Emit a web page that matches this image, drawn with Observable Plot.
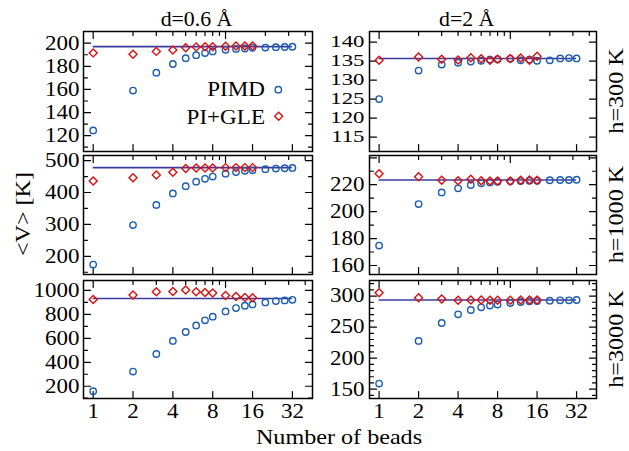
<!DOCTYPE html>
<html><head><meta charset="utf-8">
<script src="https://cdn.jsdelivr.net/npm/d3@7"></script>
<script src="https://cdn.jsdelivr.net/npm/@observablehq/plot@0.6"></script>
<style>
body{margin:0;background:#fff;}
#chart{position:relative;width:629px;height:451px;overflow:hidden;background:#fff;}
#chart .panel{position:absolute;}
#chart svg.overlay{position:absolute;left:0;top:0;pointer-events:none;}
</style></head><body><div id="chart"></div>
<script>
// ---- data ----
const beads = [1,2,3,4,5,6,7,8,10,12,14,16,20,24,28,32];
const gleBeads = [1,2,3,4,5,6,7,8,10,12,14,16];
const columnTitles = ["d=0.6 Å", "d=2 Å"];
const rowTitles = ["h=300 K", "h=1000 K", "h=3000 K"];
const seriesNames = ["PIMD", "PI+GLE"];

const pimd_06_300 = [124.5,159,174.5,182,187,189.6,191.4,192.9,194.3,195,195.4,196,196.2,196.5,196.7,196.9];
const gle_06_300  = [191.6,190.5,192.9,194,196,196.8,197,197,197.3,197.5,197.5,197.5];
const pimd_2_300  = [125.0,132.5,134.1,134.6,134.9,135.1,135.4,135.5,135.6,135.2,135.4,135.1,135.2,135.7,135.8,135.7];
const gle_2_300   = [135.2,136.1,135.5,135.3,135.9,135.6,135.2,135.5,135.7,135.8,135.2,136.3];
const pimd_06_1000 = [174,298,361,397,420,434,443,450,459,464,468,469.5,473,475,476,477];
const gle_06_1000  = [436,446,455,463.5,475,477,477,477,478,478,478,478];
const pimd_2_1000  = [174.8,205.6,214.3,217.3,219.8,221,221.7,222.2,222.5,222.7,223,223,223.3,223.5,223.5,223.7];
const gle_2_1000   = [228.2,226,223.3,223,224,223,222.7,222.7,222.7,223.3,223.5,223.3];
const pimd_06_3000 = [158,322,469,578,653,708,750,781,825,853,872,883,900,911,917,922];
const gle_06_3000  = [925,961,989,992,1003,989,983,978,958,950,942,939];
const pimd_2_3000  = [159,227.7,256.6,270.6,277.5,281.8,284.6,286.2,288.8,290.4,291.5,292,292.5,293,293,293.6];
const gle_2_3000   = [305.4,297.4,295.3,293.2,293.6,293.6,293.2,293.2,293.2,293.6,293.6,293.6];
const refValues = [[197, 135.7], [478, 223.5], [933, 293.6]];

const yDomains = [[[106.3,210.1],[111.2,142.8]], [[143,516],[153.3,241.7]], [[97.5,1083],[135,325]]];
const yLabelTicks = [[[120,140,160,180,200],[115,120,125,130,135,140]],
                     [[200,300,400,500],[160,180,200,220]],
                     [[200,400,600,800,1000],[150,200,250,300]]];
const yMajorTicks = [[[120,140,160,180,200],[115,120,125,130,135,140]],
                     [[200,300,400,500],[160,180,200,220,240]],
                     [[200,400,600,800,1000],[150,200,250,300]]];
const yMinorTicks = [[[110,130,150,170,190],[]],
                     [[150,250,350,450],[170,190,210,230]],
                     [[100,300,500,700,900],[140,160,170,180,190,210,220,230,240,260,270,280,290,310,320]]];
const xDomain = [0.845, 45.4];
const xTopMajor = [1, 10];
const xTopMinor = [2,3,4,5,6,7,8,9,20,30,40];
const xBottomTicks = [1,2,4,8,16,32];

const pimdData = [[pimd_06_300, pimd_2_300],[pimd_06_1000, pimd_2_1000],[pimd_06_3000, pimd_2_3000]];
const gleData  = [[gle_06_300, gle_2_300],[gle_06_1000, gle_2_1000],[gle_06_3000, gle_2_3000]];

// ---- styles / layout ----
const FONT = "'Liberation Serif','Times New Roman',serif";
const C_PIMD = "#1c5db0", C_GLE = "#dd1010", C_REF = "#3a3a9e";
const colLeft = [83, 369], colWidth = [229, 227];
const rowTop = [31, 155, 280], rowHeight = [120, 119, 118];
const TX = 1.15; // horizontal text stretch of the original

const chart = document.getElementById("chart");
const tickShape = {draw(ctx, l) { ctx.moveTo(0, 0); ctx.lineTo(0, -l); }};

function panel(row, col) {
  const mL = 60, mR = 8, mT = 8, mB = row === 2 ? 40 : 8;
  const dom = yDomains[row][col];
  const inDom = (v) => v >= dom[0] && v <= dom[1];
  const major = yMajorTicks[row][col].filter(inDom);
  const minor = yMinorTicks[row][col].filter(inDom);
  const dense = row === 0 && col === 1; // tightly packed labels
  const labelSize = dense ? 16.5 : 20;
  const labelStretch = dense ? 1.38 : TX;
  const tk = (data, opts) => Plot.vector(data, {anchor: "start", shape: tickShape, stroke: "black", strokeWidth: 1.2, ...opts});
  const p = Plot.plot({
    width: mL + colWidth[col] + mR, height: mT + rowHeight[row] + mB,
    marginLeft: mL, marginRight: mR, marginTop: mT, marginBottom: mB,
    x: {type: "log", domain: xDomain, axis: null},
    y: {domain: dom, axis: null},
    style: {fontFamily: FONT, fontSize: "20px", color: "black", background: "transparent", overflow: "visible"},
    marks: [
      Plot.axisY({ticks: yLabelTicks[row][col], tickSize: 0, tickPadding: col === 0 ? 4 : 5, tickFormat: (d) => String(d), label: null, fontSize: labelSize}),
      row === 2 ? Plot.text(xBottomTicks, {x: (d) => d, text: (d) => String(d), frameAnchor: "bottom", lineAnchor: "top", dy: 5, fontSize: 20}) : null,
      tk(major, {y: (d) => d, frameAnchor: "left", rotate: 90, length: 7}),
      tk(minor, {y: (d) => d, frameAnchor: "left", rotate: 90, length: 4}),
      tk(major, {y: (d) => d, frameAnchor: "right", rotate: -90, length: 7}),
      tk(minor, {y: (d) => d, frameAnchor: "right", rotate: -90, length: 4}),
      tk(xTopMajor, {x: (d) => d, frameAnchor: "top", rotate: 180, length: 7}),
      tk(xTopMinor, {x: (d) => d, frameAnchor: "top", rotate: 180, length: 4}),
      tk(xBottomTicks, {x: (d) => d, frameAnchor: "bottom", rotate: 0, length: 7}),
      Plot.ruleY([refValues[row][col]], {x1: beads[0], x2: beads[beads.length - 1], stroke: C_REF, strokeWidth: 1.6}),
      Plot.dot(beads, {x: (d) => d, y: pimdData[row][col], r: 3.2, stroke: C_PIMD, strokeWidth: 1.4, fill: "none"}),
      Plot.dot(gleBeads, {x: (d) => d, y: gleData[row][col], symbol: "diamond2", r: 3.6, stroke: C_GLE, strokeWidth: 1.4, fill: "none"}),
      Plot.frame({stroke: "black", strokeWidth: 1.5})
    ]
  });
  p.querySelectorAll("text").forEach((t) => {
    const s = t.closest("[aria-label='y-axis tick label']") ? labelStretch : TX;
    t.setAttribute("transform", (t.getAttribute("transform") || "") + ` scale(${s},1)`);
  });
  p.classList.add("panel");
  p.style.left = (colLeft[col] - mL) + "px";
  p.style.top = (rowTop[row] - mT) + "px";
  chart.appendChild(p);
}
for (let r = 0; r < 3; r++) for (let c = 0; c < 2; c++) panel(r, c);

// ---- overlay texts and legend ----
const ov = d3.select(chart).append("svg").attr("class", "overlay").attr("width", 629).attr("height", 451)
  .style("font-family", FONT).attr("fill", "black");
function txt(s, x, y, size, rot = 0, anchor = "middle", sx = TX) {
  ov.append("text").attr("transform", `translate(${x},${y}) rotate(${rot}) scale(${sx},1)`)
    .attr("text-anchor", anchor).attr("font-size", size).text(s);
}
txt(columnTitles[0], 196.5, 26, 21, 0, "middle", 1.04);
txt(columnTitles[1], 466.7, 26, 21, 0, "middle", 1.04);
rowTitles.forEach((s, i) => txt(s, 623, rowTop[i] + rowHeight[i] / 2, 21, -90, "middle"));
txt("<V> [K]", 30, 214, 21, -90);
txt("Number of beads", 339, 444, 21);
// legend
txt(seriesNames[0], 265, 96, 22, 0, "end", 1.05);
txt(seriesNames[1], 265, 124, 22, 0, "end", 1.05);
ov.append("path").attr("d", d3.symbol(d3.symbolCircle, Math.PI * 3.2 * 3.2)()).attr("transform", "translate(278.3,89.7)")
  .attr("fill", "none").attr("stroke", C_PIMD).attr("stroke-width", 1.4);
ov.append("path").attr("d", d3.symbol(d3.symbolDiamond2, Math.PI * 3.6 * 3.6)()).attr("transform", "translate(278.7,116.3)")
  .attr("fill", "none").attr("stroke", C_GLE).attr("stroke-width", 1.4);
</script></body></html>
